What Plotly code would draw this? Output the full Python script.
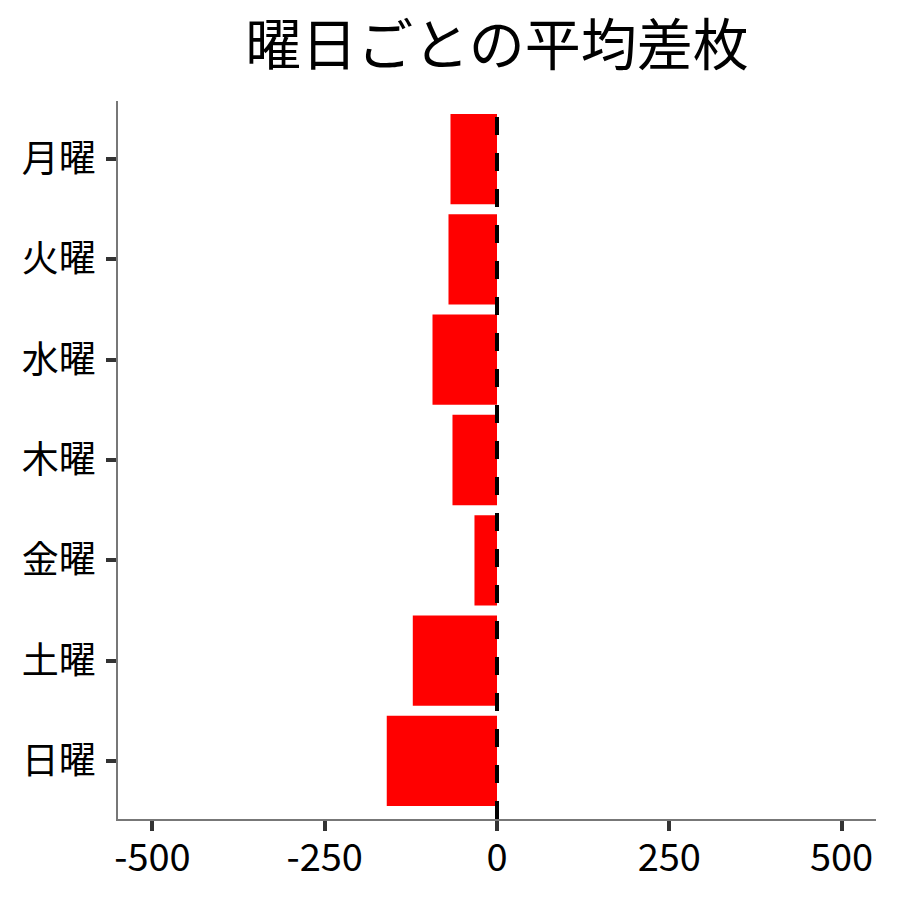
import plotly.graph_objects as go

# 曜日ごとの平均差枚
days = ['月曜', '火曜', '水曜', '木曜', '金曜', '土曜', '日曜']
avg_diff = [-67.5, -70.4, -93.6, -64.6, -32.7, -122.2, -160.0]
x_ticks = [-500, -250, 0, 250, 500]

font = 'Noto Sans CJK JP'

fig = go.Figure()
fig.add_trace(go.Bar(x=avg_diff, y=days, orientation='h',
                     marker=dict(color='#FF0000', line=dict(width=0)),
                     width=0.9))

fig.add_vline(x=0, line=dict(color='black', width=4, dash='18px,18px'))

fig.update_layout(
    width=900, height=900,
    plot_bgcolor='white', paper_bgcolor='white',
    margin=dict(l=110, r=32, t=93, b=89),
    showlegend=False,
    title=dict(text='曜日ごとの平均差枚', x=0.5, xref='paper', xanchor='center',
               y=0.959, yanchor='middle',
               font=dict(family=font, size=56, color='black')),
    font=dict(family=font, color='black'),
)
fig.update_xaxes(range=[-550, 550], tickvals=x_ticks, ticktext=[str(v) for v in x_ticks],
                 showgrid=False, zeroline=False,
                 showline=True, linecolor='#777777', linewidth=1.5,
                 ticks='outside', ticklen=10, tickwidth=3.5, tickcolor='#333333',
                 ticklabelstandoff=-5,
                 tickfont=dict(family=font, size=38, color='black'))
fig.update_yaxes(categoryorder='array', categoryarray=days[::-1],
                 range=[-0.58, 6.58],
                 showgrid=False, zeroline=False,
                 showline=True, linecolor='#777777', linewidth=1.5,
                 ticks='outside', ticklen=10, tickwidth=3.5, tickcolor='#333333',
                 ticklabelstandoff=3,
                 tickfont=dict(family=font, size=37, color='black'))

fig.write_html('out.html')
